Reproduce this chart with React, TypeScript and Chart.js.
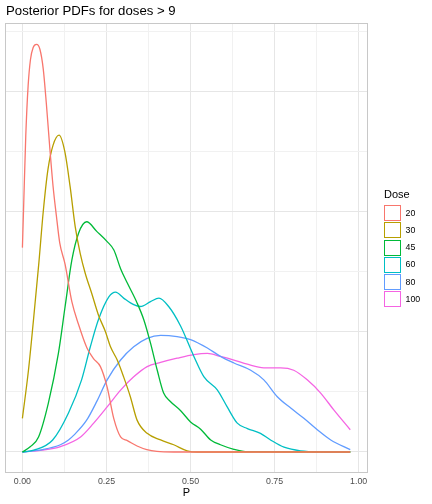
import React, { useEffect, useRef } from "react";
import { Chart, registerables } from "chart.js";

Chart.register(...registerables);

const FONT = '"Liberation Sans", Arial, Helvetica, sans-serif';

const chartTitle = "Posterior PDFs for doses > 9";
const xAxisTitle = "P";
const legendTitle = "Dose";
const doseLabels = ["20", "30", "45", "60", "80", "100"];
const doseColors = ["#F8766D", "#B79F00", "#00BA38", "#00BFC4", "#619CFF", "#F564E3"];

const xTickValues = [0, 0.125, 0.25, 0.375, 0.5, 0.625, 0.75, 0.875, 1];
const xMajorTicks = [0, 0.25, 0.5, 0.75, 1];
const yTickValues = [0, 1, 2, 3, 4, 5, 6, 7];
const yMajorTicks = [0, 2, 4, 6];

const p20 = [0, 0.004, 0.01, 0.017, 0.024, 0.032, 0.042, 0.052, 0.062, 0.071, 0.081, 0.091, 0.101, 0.111, 0.127, 0.147, 0.167, 0.192, 0.212, 0.232, 0.252, 0.272, 0.292, 0.312, 0.341, 0.37, 0.4, 0.45, 0.975];
const d20 = [3.4, 4.15, 5.26, 6.09, 6.53, 6.73, 6.78, 6.7, 6.37, 5.81, 5.09, 4.43, 3.93, 3.48, 3.12, 2.5, 2.12, 1.73, 1.55, 1.42, 1.08, 0.55, 0.25, 0.19, 0.1, 0.04, 0.01, 0, 0];

const p30 = [0, 0.018, 0.033, 0.049, 0.062, 0.076, 0.091, 0.109, 0.126, 0.142, 0.157, 0.172, 0.187, 0.206, 0.226, 0.247, 0.262, 0.282, 0.301, 0.321, 0.341, 0.371, 0.411, 0.45, 0.49, 0.52, 0.975];
const d30 = [0.56, 1.36, 2.2, 3.15, 4.0, 4.7, 5.1, 5.27, 5.0, 4.41, 3.75, 3.3, 2.97, 2.64, 2.28, 2.0, 1.75, 1.53, 1.25, 0.92, 0.53, 0.31, 0.2, 0.12, 0.02, 0, 0];

const p45 = [0, 0.024, 0.048, 0.077, 0.107, 0.127, 0.147, 0.167, 0.191, 0.221, 0.252, 0.272, 0.292, 0.312, 0.341, 0.361, 0.381, 0.401, 0.42, 0.44, 0.47, 0.5, 0.53, 0.56, 0.589, 0.629, 0.67, 0.975];
const d45 = [0, 0.09, 0.25, 0.81, 1.64, 2.42, 3.19, 3.64, 3.83, 3.67, 3.5, 3.36, 3.05, 2.81, 2.48, 2.2, 1.81, 1.36, 0.98, 0.84, 0.69, 0.5, 0.38, 0.2, 0.12, 0.045, 0.005, 0];

const p60 = [0, 0.034, 0.09, 0.137, 0.176, 0.202, 0.226, 0.257, 0.277, 0.301, 0.331, 0.351, 0.381, 0.406, 0.435, 0.47, 0.51, 0.54, 0.58, 0.609, 0.639, 0.669, 0.708, 0.738, 0.778, 0.827, 0.9, 0.975];
const d60 = [0, 0.03, 0.2, 0.65, 1.2, 1.75, 2.2, 2.58, 2.66, 2.56, 2.45, 2.42, 2.5, 2.56, 2.42, 2.1, 1.59, 1.25, 1.03, 0.75, 0.48, 0.39, 0.31, 0.2, 0.08, 0.02, 0.003, 0];

const p80 = [0, 0.06, 0.113, 0.137, 0.153, 0.19, 0.222, 0.252, 0.292, 0.331, 0.371, 0.411, 0.46, 0.5, 0.55, 0.589, 0.629, 0.679, 0.718, 0.758, 0.798, 0.837, 0.877, 0.917, 0.975];
const d80 = [0, 0.04, 0.12, 0.2, 0.28, 0.52, 0.85, 1.2, 1.53, 1.75, 1.89, 1.94, 1.92, 1.87, 1.73, 1.59, 1.48, 1.36, 1.2, 0.92, 0.73, 0.56, 0.37, 0.2, 0.04];

const p100 = [0, 0.06, 0.113, 0.173, 0.212, 0.252, 0.292, 0.331, 0.371, 0.411, 0.46, 0.51, 0.55, 0.589, 0.629, 0.669, 0.718, 0.768, 0.807, 0.847, 0.887, 0.926, 0.975];
const d100 = [0, 0.03, 0.09, 0.25, 0.48, 0.75, 1.03, 1.25, 1.42, 1.49, 1.56, 1.62, 1.64, 1.59, 1.53, 1.46, 1.4, 1.4, 1.36, 1.2, 0.98, 0.7, 0.37];

const seriesP = [p20, p30, p45, p60, p80, p100];
const seriesD = [d20, d30, d45, d60, d80, d100];

const isIn = (arr: number[], v: number) => arr.some((a) => Math.abs(a - v) < 1e-9);

const panelBorder = {
  id: "panelBorder",
  afterDatasetsDraw(chart: any) {
    const { ctx, chartArea } = chart;
    const { left, top, right, bottom } = chartArea;
    ctx.save();
    ctx.strokeStyle = "#c8c8c8";
    ctx.lineWidth = 1;
    ctx.strokeRect(Math.round(left) - 0.5, Math.round(top) - 0.5, Math.round(right - left) + 1, Math.round(bottom - top) + 1);
    ctx.restore();
  },
};

export default function App() {
  const canvasRef = useRef<HTMLCanvasElement | null>(null);

  useEffect(() => {
    if (!canvasRef.current) return;
    const datasets = seriesP.map((p, i) => ({
      label: doseLabels[i],
      data: p.map((x, j) => ({ x, y: seriesD[i][j] })),
      borderColor: doseColors[i],
      backgroundColor: doseColors[i],
      borderWidth: 1.3,
      pointRadius: 0,
      fill: false,
      cubicInterpolationMode: "monotone" as const,
    }));

    const chart = new Chart(canvasRef.current, {
      type: "line",
      data: { datasets },
      options: {
        animation: false,
        responsive: false,
        events: [],
        layout: { padding: { left: 6, right: 65, top: 24, bottom: 0 } },
        plugins: {
          legend: { display: false },
          tooltip: { enabled: false },
          title: { display: false },
        },
        scales: {
          x: {
            type: "linear",
            min: -0.0488,
            max: 1.0248,
            afterBuildTicks: (s: any) => {
              s.ticks = xTickValues.map((v) => ({ value: v }));
            },
            afterFit: (s: any) => {
              s.height = 32;
              s.paddingLeft = 0;
              s.paddingRight = 0;
            },
            border: { display: false },
            grid: {
              drawTicks: false,
              color: (ctx: any) => (isIn(xMajorTicks, ctx.tick?.value) ? "#e6e6e6" : "#f1f1f1"),
              lineWidth: 1,
            },
            ticks: {
              autoSkip: false,
              maxRotation: 0,
              minRotation: 0,
              padding: 4.4,
              color: "#4d4d4d",
              font: { family: FONT, size: 8.8 },
              callback: (v: any) => (isIn(xMajorTicks, Number(v)) ? Number(v).toFixed(2) : ""),
            },
            title: {
              display: true,
              text: xAxisTitle,
              color: "#000000",
              font: { family: FONT, size: 11 },
              padding: { top: 0, bottom: 4.7 },
            },
          },
          y: {
            type: "linear",
            min: -0.333,
            max: 7.12,
            afterBuildTicks: (s: any) => {
              s.ticks = yTickValues.map((v) => ({ value: v }));
            },
            afterFit: (s: any) => {
              s.width = 0;
              s.paddingTop = 0;
              s.paddingBottom = 0;
            },
            border: { display: false },
            grid: {
              drawTicks: false,
              color: (ctx: any) => (isIn(yMajorTicks, ctx.tick?.value) ? "#e6e6e6" : "#f1f1f1"),
              lineWidth: 1,
            },
            ticks: { display: false },
          },
        },
      } as any,
      plugins: [panelBorder],
    });
    return () => chart.destroy();
  }, []);

  return (
    <div style={{ position: "absolute", left: 0, top: 0, width: 432, height: 504, background: "#ffffff", fontFamily: FONT }}>
      <canvas ref={canvasRef} width={432} height={504} style={{ position: "absolute", left: 0, top: 0, width: 432, height: 504 }} />
      <div style={{ position: "absolute", left: 6, top: 3.8, fontSize: 13.2, lineHeight: "13.2px", color: "#000", whiteSpace: "nowrap" }}>
        {chartTitle}
      </div>
      <div style={{ position: "absolute", left: 384, top: 188.4, fontSize: 11, lineHeight: "13px", color: "#000" }}>{legendTitle}</div>
      {doseLabels.map((lab, i) => (
        <React.Fragment key={lab}>
          <div
            style={{
              position: "absolute",
              left: 384,
              top: 205 + 17.28 * i,
              width: 17,
              height: 16,
              boxSizing: "border-box",
              border: `1.3px solid ${doseColors[i]}`,
              background: "#ffffff",
            }}
          />
          <div
            style={{
              position: "absolute",
              left: 405.5,
              top: 205 + 17.28 * i + 8 - 5.5,
              fontSize: 8.8,
              lineHeight: "11px",
              color: "#000",
            }}
          >
            {lab}
          </div>
        </React.Fragment>
      ))}
    </div>
  );
}
